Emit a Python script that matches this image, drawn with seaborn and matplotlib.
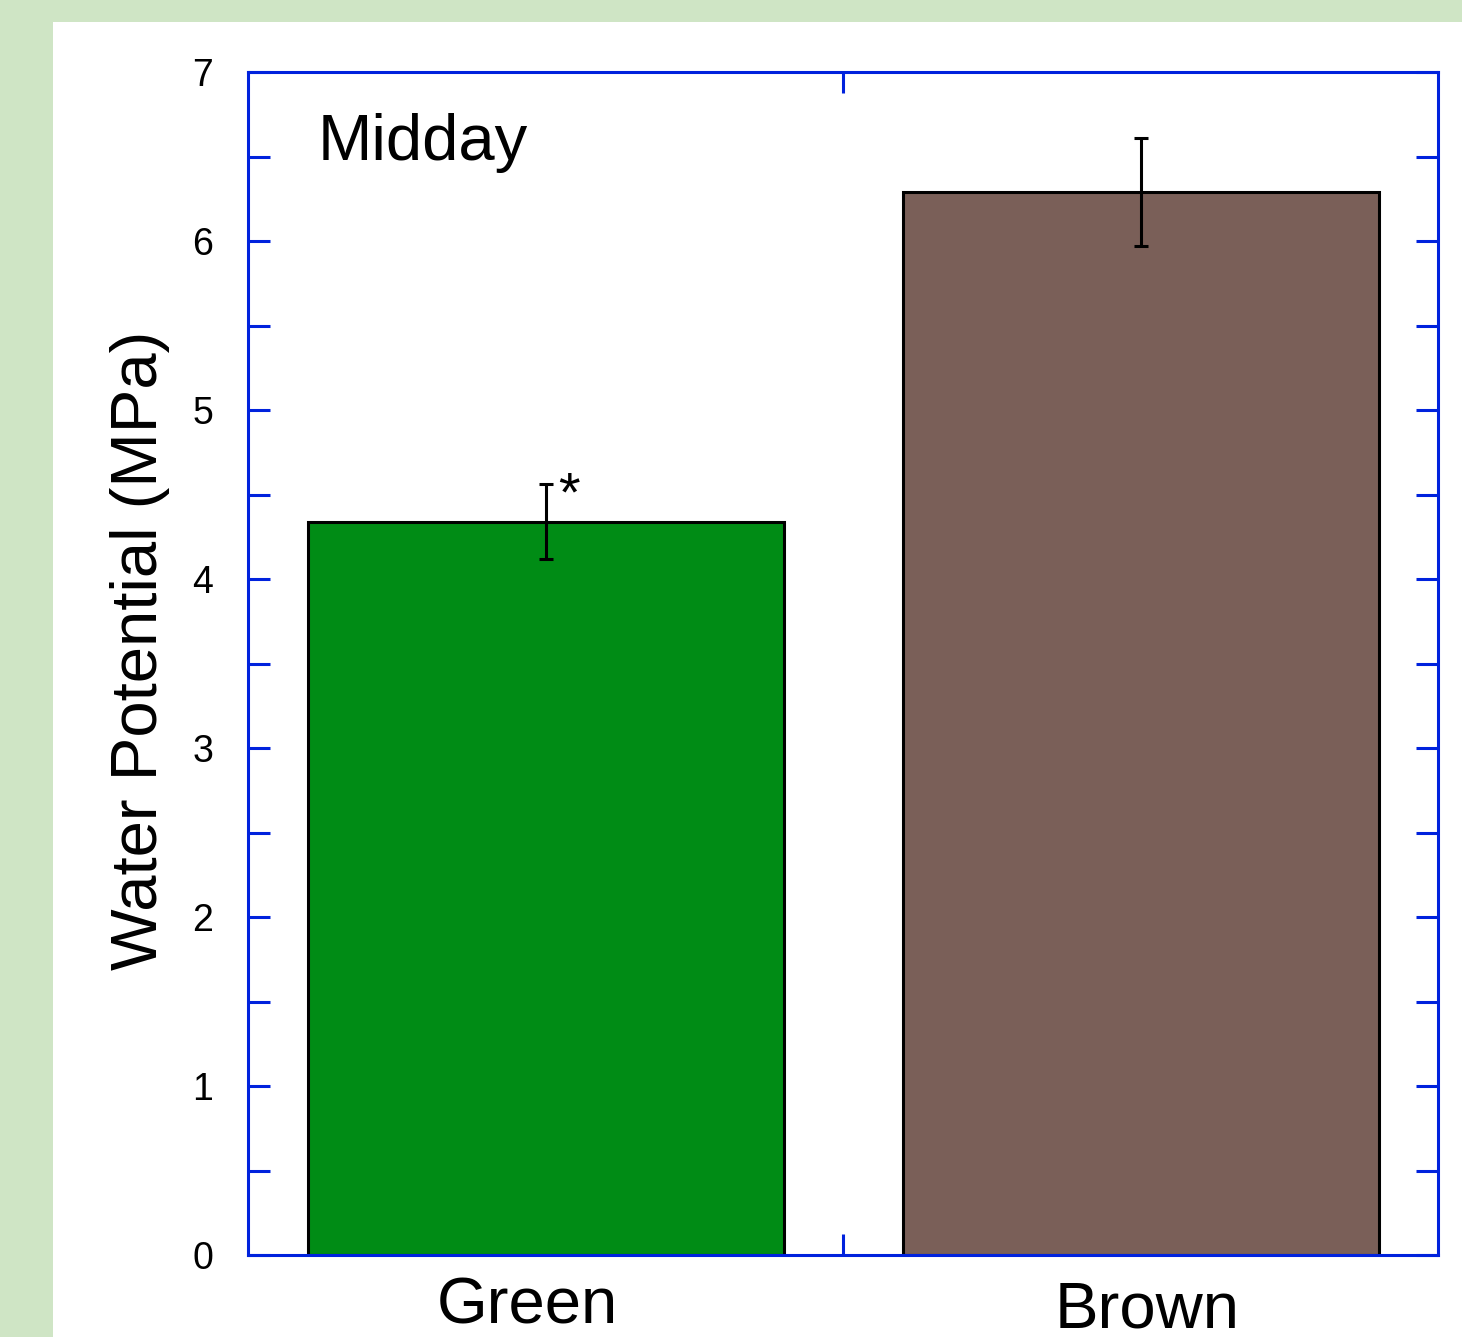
import matplotlib
matplotlib.use("Agg")
import matplotlib.pyplot as plt
from matplotlib.patches import Rectangle
from matplotlib.ticker import MultipleLocator, FixedLocator, NullFormatter
from matplotlib.transforms import ScaledTranslation
import seaborn as sns
import pandas as pd

# ---- data ----
categories = ["Green", "Brown"]
means = [4.34, 6.29]
errors = [0.22, 0.32]
bar_colors = ["#008C15", "#7A5F58"]
panel_title = "Midday"
y_label = "Water Potential (MPa)"
sig_marks = ["*", ""]

sns.set_theme(style="ticks")
plt.rcParams["font.family"] = ["Liberation Sans", "DejaVu Sans"]

BLUE = "#0022DD"
fig = plt.figure(figsize=(14.62, 13.37), dpi=100)
fig.patch.set_facecolor("#CFE5C5")
fig.patches.append(Rectangle((53 / 1462, 0), 1 - 53 / 1462, 1 - 22 / 1337,
                             transform=fig.transFigure, facecolor="white",
                             edgecolor="none", zorder=-10))

ax = fig.add_axes([248 / 1462, 1 - 1255 / 1337, (1438 - 248) / 1462, (1255 - 72) / 1337])
ax.set_zorder(1)
ax.set_facecolor("none")

df = pd.DataFrame({"cat": categories, "val": means})
sns.barplot(data=df, x="cat", y="val", hue="cat", palette=bar_colors,
            order=categories, errorbar=None, width=0.8, legend=False,
            edgecolor="black", linewidth=2.2, saturation=1, ax=ax)
ax.errorbar(x=range(len(categories)), y=means, yerr=errors, fmt="none",
            ecolor="black", elinewidth=2.2, capsize=5, capthick=2.2, zorder=5)

for i, (m, e, s) in enumerate(zip(means, errors, sig_marks)):
    if s:
        ax.text(i + 0.04, m + e - 0.152, s, ha="center", va="baseline",
                fontsize=40, color="black")

ax.set_xlim(-0.5, 1.5)
ax.set_ylim(0, 7)

for sp in ax.spines.values():
    sp.set_visible(True)
    sp.set_color(BLUE)
    sp.set_linewidth(2.2)

ax.yaxis.set_major_locator(MultipleLocator(1))
ax.yaxis.set_minor_locator(MultipleLocator(0.5))
ax.tick_params(axis="y", which="both", direction="in", length=16, width=2.2,
               color=BLUE, left=True, right=True, labelright=False,
               labelsize=27, pad=25, labelcolor="black")
ax.tick_params(axis="x", which="major", length=0, labelsize=47, pad=8,
               labelcolor="black")
ax.xaxis.set_minor_locator(FixedLocator([0.5]))
ax.xaxis.set_minor_formatter(NullFormatter())
ax.tick_params(axis="x", which="minor", direction="in", length=15, width=2.2,
               color=BLUE, top=True, bottom=True)

# small per-label offsets (pixels) to match the reference placement
label_offsets_px = [(-18, -10), (7, -14)]
for lab, (dx, dy) in zip(ax.get_xticklabels(), label_offsets_px):
    lab.set_transform(lab.get_transform() +
                      ScaledTranslation(dx / 100, dy / 100, fig.dpi_scale_trans))

ax.set_xlabel("")
ax.set_ylabel(y_label, fontsize=47, color="black")
ax.yaxis.set_label_coords(-0.0655, 0.511)

ax.text(0.0588, 0.9256, panel_title, transform=ax.transAxes, ha="left",
        va="baseline", fontsize=47, color="black")

fig.savefig("out.png", dpi=100, facecolor=fig.get_facecolor())
